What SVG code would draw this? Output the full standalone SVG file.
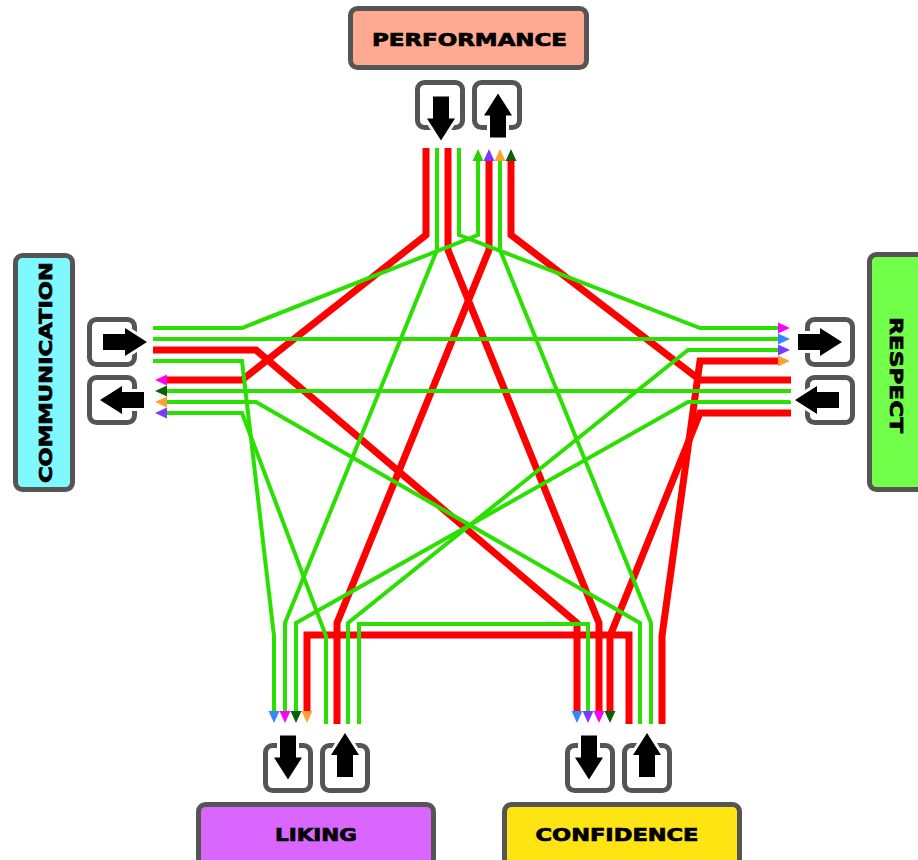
<svg xmlns="http://www.w3.org/2000/svg" width="918" height="860" viewBox="0 0 918 860">
<style>
.box{stroke:#555;stroke-width:5}
.lbl{font-family:"DejaVu Sans","Liberation Sans",sans-serif;font-weight:bold;font-size:17px;fill:#000;stroke:#000;stroke-width:0.7;text-anchor:middle}
.ibox{fill:#fff;stroke:#555;stroke-width:5}
.arr{fill:#000;stroke:#fff;stroke-width:6;paint-order:stroke;stroke-linejoin:miter}
.r{fill:none;stroke:#ff0000;stroke-width:7}
.g{fill:none;stroke:#2be000;stroke-width:4}
</style>
<defs>
<path id="ar" d="M-22,-8 L0,-8 L0,-14 L22,0 L0,14 L0,8 L-22,8 Z"/>
<marker id="m-mag" markerUnits="userSpaceOnUse" markerWidth="12" markerHeight="12" viewBox="0 0 12 12" refX="0" refY="6" orient="auto"><path d="M0,0.5 L12,6 L0,11.5 Z" fill="#ff00ff"/></marker>
<marker id="m-blu" markerUnits="userSpaceOnUse" markerWidth="12" markerHeight="12" viewBox="0 0 12 12" refX="0" refY="6" orient="auto"><path d="M0,0.5 L12,6 L0,11.5 Z" fill="#3388ff"/></marker>
<marker id="m-pur" markerUnits="userSpaceOnUse" markerWidth="12" markerHeight="12" viewBox="0 0 12 12" refX="0" refY="6" orient="auto"><path d="M0,0.5 L12,6 L0,11.5 Z" fill="#7b3bff"/></marker>
<marker id="m-org" markerUnits="userSpaceOnUse" markerWidth="12" markerHeight="12" viewBox="0 0 12 12" refX="0" refY="6" orient="auto"><path d="M0,0.5 L12,6 L0,11.5 Z" fill="#ffa033"/></marker>
<marker id="m-dkg" markerUnits="userSpaceOnUse" markerWidth="12" markerHeight="12" viewBox="0 0 12 12" refX="0" refY="6" orient="auto"><path d="M0,0.5 L12,6 L0,11.5 Z" fill="#0b5e0b"/></marker>
<marker id="m-grn" markerUnits="userSpaceOnUse" markerWidth="12" markerHeight="12" viewBox="0 0 12 12" refX="0" refY="6" orient="auto"><path d="M0,0.5 L12,6 L0,11.5 Z" fill="#2bd000"/></marker>
</defs>
<rect width="918" height="860" fill="#fff"/>

<g id="connectors">
<!-- red -->
<polyline class="r" points="426,148 426,235 242,380 167,380" marker-end="url(#m-mag)"/>
<polyline class="r" points="448,148 448,250 599,623 599,711" marker-end="url(#m-mag)"/>
<polyline class="r" points="337,724 337,623 489,250 489,161" marker-end="url(#m-pur)"/>
<polyline class="r" points="791,380 700,380 511,235 511,161" marker-end="url(#m-dkg)"/>
<polyline class="r" points="153,350 256,350 577,623 577,711" marker-end="url(#m-blu)"/>
<polyline class="r" points="791,413 700,413 610,636 610,711" marker-end="url(#m-dkg)"/>
<polyline class="r" points="662,724 662,636 700,361 778,361" marker-end="url(#m-org)"/>
<polyline class="r" points="629,724 629,635 307,635 307,711" marker-end="url(#m-org)"/>
<!-- green -->
<polyline class="g" points="437,148 437,250 285,623 285,711" marker-end="url(#m-mag)"/>
<polyline class="g" points="459,148 459,235 700,328 778,328" marker-end="url(#m-mag)"/>
<polyline class="g" points="153,328 242,328 478,235 478,161" marker-end="url(#m-grn)"/>
<polyline class="g" points="651,724 651,623 500,250 500,161" marker-end="url(#m-org)"/>
<polyline class="g" points="153,339 778,339" marker-end="url(#m-blu)"/>
<polyline class="g" points="153,361 242,361 274,636 274,711" marker-end="url(#m-blu)"/>
<polyline class="g" points="791,391 167,391" marker-end="url(#m-dkg)"/>
<polyline class="g" points="640,724 640,623 256,402 167,402" marker-end="url(#m-org)"/>
<polyline class="g" points="326,724 326,636 242,413 167,413" marker-end="url(#m-pur)"/>
<polyline class="g" points="348,724 348,623 688,350 778,350" marker-end="url(#m-pur)"/>
<polyline class="g" points="359,724 359,624 588,624 588,711" marker-end="url(#m-pur)"/>
<polyline class="g" points="791,402 688,402 296,623 296,711" marker-end="url(#m-dkg)"/>
</g>

<g id="node-performance">
<rect class="box" x="350.5" y="8.5" width="236" height="59" rx="7" fill="#ffaa90"/>
<text class="lbl" x="469.5" y="46" textLength="195" lengthAdjust="spacingAndGlyphs">PERFORMANCE</text>
<rect class="ibox" x="417.5" y="82.5" width="45" height="45" rx="7"/>
<rect class="ibox" x="474.5" y="82.5" width="45" height="45" rx="7"/>
<use href="#ar" class="arr" transform="translate(441,118.5) rotate(90)"/>
<use href="#ar" class="arr" transform="translate(498,115.5) rotate(-90)"/>
</g>

<g id="node-communication">
<rect class="box" x="15.5" y="255.5" width="57" height="234" rx="7" fill="#7ff8ff"/>
<text class="lbl" x="0" y="0" transform="translate(52,372.5) rotate(-90)" textLength="221" lengthAdjust="spacingAndGlyphs">COMMUNICATION</text>
<rect class="ibox" x="89.5" y="319.5" width="45" height="45" rx="7"/>
<rect class="ibox" x="89.5" y="377.5" width="45" height="45" rx="7"/>
<use href="#ar" class="arr" transform="translate(125,342)"/>
<use href="#ar" class="arr" transform="translate(122,400) rotate(180)"/>
</g>

<g id="node-respect">
<rect class="box" x="869.5" y="254.5" width="58" height="235" rx="7" fill="#72ff4a"/>
<text class="lbl" x="0" y="0" transform="translate(890,375) rotate(90)" textLength="116" lengthAdjust="spacingAndGlyphs">RESPECT</text>
<rect class="ibox" x="807.5" y="319.5" width="45" height="45" rx="7"/>
<rect class="ibox" x="807.5" y="377.5" width="45" height="45" rx="7"/>
<use href="#ar" class="arr" transform="translate(820,342)"/>
<use href="#ar" class="arr" transform="translate(817,400) rotate(180)"/>
</g>

<g id="node-liking">
<rect class="box" x="198.5" y="804.5" width="235" height="62" rx="7" fill="#d966ff"/>
<text class="lbl" x="316" y="841" textLength="82" lengthAdjust="spacingAndGlyphs">LIKING</text>
<rect class="ibox" x="265.5" y="745.5" width="45" height="45" rx="7"/>
<rect class="ibox" x="322.5" y="745.5" width="45" height="45" rx="7"/>
<use href="#ar" class="arr" transform="translate(288,757.5) rotate(90)"/>
<use href="#ar" class="arr" transform="translate(345,755) rotate(-90)"/>
</g>

<g id="node-confidence">
<rect class="box" x="504.5" y="804.5" width="235" height="62" rx="7" fill="#ffe413"/>
<text class="lbl" x="617" y="841" textLength="163" lengthAdjust="spacingAndGlyphs">CONFIDENCE</text>
<rect class="ibox" x="567.5" y="745.5" width="45" height="45" rx="7"/>
<rect class="ibox" x="624.5" y="745.5" width="45" height="45" rx="7"/>
<use href="#ar" class="arr" transform="translate(589,757.5) rotate(90)"/>
<use href="#ar" class="arr" transform="translate(647,755) rotate(-90)"/>
</g>
</svg>
